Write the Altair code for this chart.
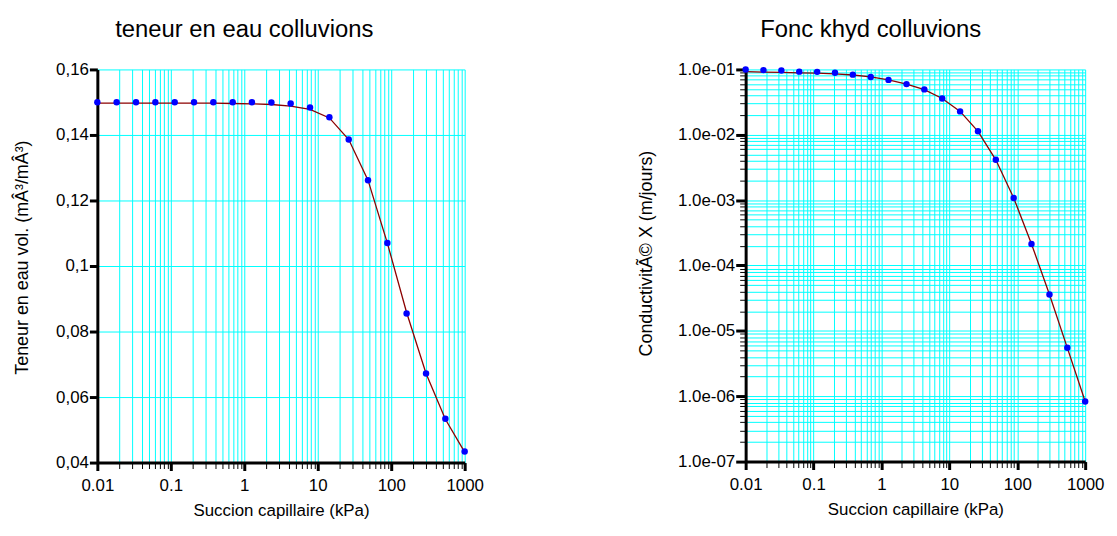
import altair as alt
import pandas as pd

# Succion capillaire (kPa) - sample positions
succion = [0.01, 0.0183, 0.0336, 0.0616, 0.113, 0.207, 0.379, 0.695, 1.27, 2.34,
           4.28, 7.85, 14.4, 26.4, 48.3, 88.6, 162, 298, 546, 1000]
# teneur en eau (points mesurés)
teneur_pts = [0.1500, 0.1500, 0.1500, 0.1500, 0.1500, 0.1500, 0.1500, 0.1500, 0.1500, 0.1499,
              0.1496, 0.1484, 0.1454, 0.1386, 0.1262, 0.1070, 0.0855, 0.0672, 0.0534, 0.0434]
# teneur en eau (courbe)
teneur_fit = [0.1497, 0.1497, 0.1497, 0.1497, 0.1497, 0.1497, 0.1497, 0.1496, 0.1495, 0.1493,
              0.1488, 0.1478, 0.1452, 0.1386, 0.1262, 0.1070, 0.0858, 0.0672, 0.0532, 0.0432]
# conductivité (points)
k_pts = [0.1, 0.0977, 0.0966, 0.0925, 0.0918, 0.0891, 0.0832, 0.0766, 0.0692, 0.0596,
         0.0495, 0.0359, 0.0228, 0.0113, 0.00414, 0.00108, 0.000214, 3.6e-5, 5.5e-6, 8.3e-7]
# conductivité (courbe)
k_fit = [0.0923, 0.0912, 0.0902, 0.0887, 0.0875, 0.0855, 0.0822, 0.0767, 0.0692, 0.0594,
         0.0490, 0.0359, 0.0228, 0.0113, 0.00414, 0.00108, 0.000214, 3.6e-5, 5.5e-6, 8.3e-7]

x_major = [0.01, 0.1, 1, 10, 100, 1000]
mult = [1, 2, 3, 4, 5, 6, 7, 8, 9]
x_decades = [0.01, 0.1, 1, 10, 100]
x_minor = [m * d for d in x_decades for m in mult if not (m == 1 and d == 0.01)] + [1000]
y1_major = [0.04, 0.06, 0.08, 0.1, 0.12, 0.14, 0.16]
y1_grid = [0.06, 0.08, 0.1, 0.12, 0.14, 0.16]
y2_major = [1e-7, 1e-6, 1e-5, 1e-4, 1e-3, 1e-2, 1e-1]
y2_decades = [1e-7, 1e-6, 1e-5, 1e-4, 1e-3, 1e-2]
y2_minor = [m * d for d in y2_decades for m in mult if not (m == 1 and d == 1e-7)] + [0.1]

FONT = "Liberation Sans"
CYAN = "#00FFFF"
BLUE = "#0000FF"
RED = "#8B0000"

df = pd.DataFrame({"s": succion, "tp": teneur_pts, "tf": teneur_fit, "kp": k_pts, "kf": k_fit})

xscale = alt.Scale(type="log", domain=[0.01, 1000], nice=False)


def x_major_axis():
    return alt.Axis(values=x_major, format="~g", orient="bottom", tickSize=8, tickWidth=3,
                    tickColor="black", domainColor="black", domainWidth=3, grid=False,
                    labelFontSize=17, labelPadding=7, labelFlush=False, labelOverlap=False,
                    title="Succion capillaire (kPa)", titleFontSize=17, titlePadding=9)


def x_minor_axis():
    return alt.Axis(values=x_minor, orient="bottom", tickSize=6, tickWidth=1, tickColor="black",
                    labels=False, domain=False, grid=True, gridColor=CYAN, gridWidth=1,
                    gridOpacity=1, title=None)


# ---------- left panel ----------
y1scale = alt.Scale(domain=[0.04, 0.16], zero=False, nice=False)
left_line = alt.Chart(df).mark_line(color=RED, strokeWidth=1.3).encode(
    x=alt.X("s:Q", scale=xscale, axis=x_major_axis()),
    y=alt.Y("tf:Q", scale=y1scale, axis=alt.Axis(
        values=y1_major, orient="left", labelExpr="replace(format(datum.value, '.2~f'), '.', ',')",
        tickSize=8, tickWidth=3, tickColor="black", domainColor="black", domainWidth=3,
        grid=False, labelFontSize=17, labelPadding=1, labelFlush=False, labelOverlap=False,
        title="Teneur en eau vol. (mÂ³/mÂ³)", titleFontSize=18, titlePadding=24.5, titleY=189)),
)
left_pts = alt.Chart(df).mark_circle(size=42, color=BLUE, opacity=1).encode(
    x=alt.X("s:Q", scale=xscale, axis=x_minor_axis()),
    y=alt.Y("tp:Q", scale=y1scale, axis=alt.Axis(
        values=y1_grid, orient="left", ticks=False, labels=False, domain=False, grid=True,
        gridColor=CYAN, gridWidth=1, gridOpacity=1, title=None)),
)
left = alt.layer(left_line, left_pts).resolve_axis(x="independent", y="independent").properties(
    width=370, height=396,
    title=alt.TitleParams("teneur en eau colluvions", fontSize=24, font=FONT,
                          fontWeight="normal", color="black", offset=19, dx=-37),
)

# ---------- right panel ----------
y2scale = alt.Scale(type="log", domain=[1e-7, 0.1], nice=False)
right_line = alt.Chart(df).mark_line(color=RED, strokeWidth=1.3).encode(
    x=alt.X("s:Q", scale=xscale, axis=x_major_axis()),
    y=alt.Y("kf:Q", scale=y2scale, axis=alt.Axis(
        values=y2_major, orient="left",
        labelExpr="'1.0e-0' + round(-log(datum.value) / LN10)",
        tickSize=10, tickWidth=3, tickColor="black", domainColor="black", domainWidth=3,
        grid=False, labelFontSize=17, labelPadding=1, labelFlush=False, labelOverlap=False,
        title="ConductivitÃ© X (m/jours)", titleFontSize=18, titlePadding=22, titleY=185)),
)
right_pts = alt.Chart(df).mark_circle(size=42, color=BLUE, opacity=1).encode(
    x=alt.X("s:Q", scale=xscale, axis=x_minor_axis()),
    y=alt.Y("kp:Q", scale=y2scale, axis=alt.Axis(
        values=y2_minor, orient="left", tickSize=6, tickWidth=1, tickColor="black",
        labels=False, domain=False, grid=True, gridColor=CYAN, gridWidth=1, gridOpacity=1,
        title=None)),
)
right = alt.layer(right_line, right_pts).resolve_axis(x="independent", y="independent").properties(
    width=342, height=395,
    title=alt.TitleParams("Fonc khyd colluvions", fontSize=24, font=FONT,
                          fontWeight="normal", color="black", offset=19, dx=-45),
)

chart = alt.hconcat(left, right, spacing=155).properties(
    padding={"left": 5, "top": 8, "right": 5, "bottom": 5}
).configure_axis(
    labelFont=FONT, titleFont=FONT, labelColor="black", titleColor="black",
    titleFontWeight="normal",
).configure_view(stroke=None)

chart.save("out.html", embed_options={"renderer": "svg", "actions": False})
